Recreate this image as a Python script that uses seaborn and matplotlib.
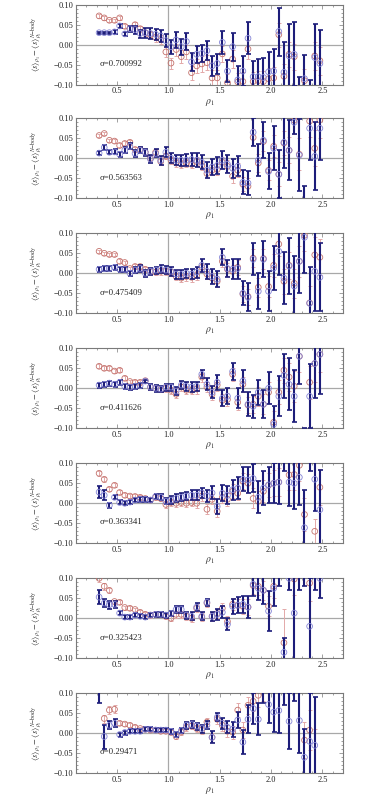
import numpy as np
import pandas as pd
import seaborn as sns
import matplotlib.pyplot as plt
import matplotlib.ticker as mticker

# -----------------------------------------------------------------------------
# Plotting attributes
# -----------------------------------------------------------------------------
sns.set_theme(style="ticks")
plt.rcParams["font.family"] = ["Liberation Serif", "DejaVu Serif"]
plt.rcParams["mathtext.fontset"] = "stix"

col_bar = "#1d1d7a"
col_blue = "#8585d6"
col_red = "#c4736d"
col_red_bar = "#e3a9a9"
col_frame = "#7a7a7a"
dpi = 100

# -----------------------------------------------------------------------------
# Data
# -----------------------------------------------------------------------------
nan = np.nan

rho = [0.325, 0.375, 0.425, 0.475, 0.525, 0.575, 0.625, 0.675, 0.725, 0.775,
       0.825, 0.875, 0.925, 0.975, 1.025, 1.075, 1.125, 1.175, 1.225, 1.275,
       1.325, 1.375, 1.425, 1.475, 1.525, 1.575, 1.625, 1.675, 1.725, 1.775,
       1.825, 1.875, 1.925, 1.975, 2.025, 2.075, 2.125, 2.175, 2.225, 2.275,
       2.325, 2.375, 2.425, 2.475]

sigmas = ["0.700992", "0.563563", "0.475409", "0.411626",
          "0.363341", "0.325423", "0.29471"]

# sigma = 0.700992
b1 = [0.030, 0.030, 0.030, 0.032, 0.047, 0.027, 0.040, 0.038, 0.028, 0.030,
      0.028, 0.026, 0.022, 0.010, -0.005, 0.012, -0.005, 0.008, -0.043, -0.024,
      -0.022, -0.015, -0.053, -0.047, 0.006, -0.066, -0.005, -0.088, -0.066, 0.016,
      -0.080, -0.080, -0.082, -0.068, -0.066, 0.033, -0.069, -0.028, -0.024, -0.140,
      -0.085, -0.110, -0.032, -0.047]
be1 = [0.003, 0.003, 0.003, 0.004, 0.005, 0.006, 0.008, 0.010, 0.010, 0.012,
       0.013, 0.014, 0.015, 0.016, 0.018, 0.020, 0.020, 0.022, 0.022, 0.022,
       0.022, 0.024, 0.024, 0.025, 0.028, 0.028, 0.035, 0.035, 0.038, 0.040,
       0.040, 0.045, 0.048, 0.050, 0.055, 0.060, 0.075, 0.080, 0.080, 0.060,
       0.060, 0.023, 0.085, 0.085]
r1 = [0.072, 0.067, 0.061, 0.061, 0.067, 0.046, 0.040, 0.050, 0.040, 0.030,
      0.025, 0.018, 0.013, -0.018, -0.046, -0.012, -0.030, -0.018, -0.070, -0.053,
      -0.048, -0.045, -0.083, -0.083, -0.023, -0.095, -0.036, -0.093, -0.092, -0.011,
      -0.092, -0.090, -0.092, -0.085, -0.083, 0.025, -0.079, -0.024, -0.030, nan,
      -0.090, nan, -0.028, -0.040]
re1 = [0.004, 0.004, 0.004, 0.004, 0.005, 0.005, 0.006, 0.006, 0.007, 0.008,
       0.009, 0.010, 0.011, 0.012, 0.014, 0.015, 0.016, 0.017, 0.018, 0.018,
       0.019, 0.019, 0.020, 0.020, 0.021, 0.021, 0.022, 0.022, 0.023, 0.024,
       0.024, 0.025, 0.026, 0.027, 0.028, 0.030, 0.030, 0.032, 0.032, 0.030,
       0.030, 0.030, 0.035, 0.035]

# sigma = 0.563563
b2 = [0.013, 0.027, 0.015, 0.016, 0.010, 0.020, 0.030, 0.012, 0.020, 0.015,
      -0.002, 0.012, -0.005, 0.015, 0.000, -0.005, -0.005, -0.005, -0.003, -0.005,
      -0.010, -0.030, -0.022, -0.018, -0.005, -0.015, -0.025, -0.020, -0.060, -0.062,
      0.065, -0.005, 0.045, -0.033, 0.025, -0.040, 0.040, 0.020, 0.090, 0.008,
      -0.120, 0.075, 0.005, 0.075]
be2 = [0.005, 0.006, 0.005, 0.006, 0.006, 0.007, 0.007, 0.008, 0.008, 0.009,
       0.010, 0.010, 0.011, 0.012, 0.013, 0.013, 0.014, 0.015, 0.016, 0.017,
       0.018, 0.020, 0.020, 0.021, 0.022, 0.022, 0.024, 0.025, 0.030, 0.030,
       0.035, 0.040, 0.045, 0.045, 0.055, 0.060, 0.065, 0.075, 0.030, 0.090,
       0.050, 0.080, 0.085, 0.080]
r2 = [0.057, 0.062, 0.045, 0.043, 0.032, 0.037, 0.040, 0.022, 0.022, 0.015,
      0.000, 0.015, -0.008, 0.005, -0.005, -0.012, -0.015, -0.012, -0.015, -0.008,
      -0.018, -0.038, -0.030, -0.028, -0.010, -0.020, -0.045, -0.030, -0.065, -0.070,
      0.052, -0.012, 0.042, -0.030, 0.030, -0.040, 0.038, 0.020, 0.095, 0.010,
      nan, 0.093, 0.025, 0.096]
re2 = [0.004, 0.004, 0.004, 0.005, 0.005, 0.005, 0.006, 0.006, 0.006, 0.007,
       0.007, 0.008, 0.008, 0.008, 0.009, 0.009, 0.010, 0.010, 0.010, 0.011,
       0.011, 0.012, 0.013, 0.013, 0.014, 0.015, 0.016, 0.017, 0.018, 0.020,
       0.020, 0.022, 0.025, 0.025, 0.028, 0.030, 0.030, 0.032, 0.035, 0.040,
       0.040, 0.040, 0.045, 0.045]

# sigma = 0.475409
b3 = [0.010, 0.012, 0.012, 0.015, 0.010, 0.010, 0.000, 0.008, 0.012, 0.000,
      0.005, 0.008, 0.010, 0.008, 0.005, -0.002, -0.003, 0.000, -0.002, 0.003,
      0.020, 0.005, -0.008, -0.015, 0.040, 0.012, 0.010, 0.012, -0.050, -0.060,
      0.035, -0.045, 0.035, -0.045, 0.013, 0.055, -0.012, 0.018, -0.032, 0.030,
      0.090, -0.075, 0.005, -0.010]
be3 = [0.006, 0.006, 0.006, 0.006, 0.007, 0.007, 0.007, 0.008, 0.008, 0.008,
       0.009, 0.009, 0.010, 0.010, 0.011, 0.011, 0.012, 0.012, 0.013, 0.014,
       0.016, 0.018, 0.018, 0.020, 0.020, 0.022, 0.025, 0.025, 0.030, 0.035,
       0.040, 0.045, 0.045, 0.050, 0.055, 0.060, 0.065, 0.070, 0.075, 0.080,
       0.090, 0.090, 0.100, 0.085]
r3 = [0.055, 0.050, 0.047, 0.047, 0.030, 0.027, 0.012, 0.017, 0.017, 0.010,
      0.005, 0.003, 0.005, 0.005, 0.003, -0.008, -0.012, -0.008, -0.010, -0.005,
      0.015, -0.002, -0.012, -0.020, 0.030, 0.010, 0.005, 0.015, -0.052, -0.058,
      0.038, -0.035, 0.037, -0.033, 0.020, 0.073, -0.020, 0.020, -0.025, 0.030,
      0.095, -0.074, 0.046, 0.040]
re3 = [0.004, 0.004, 0.004, 0.004, 0.005, 0.005, 0.005, 0.006, 0.006, 0.006,
       0.007, 0.007, 0.008, 0.008, 0.009, 0.009, 0.010, 0.010, 0.011, 0.011,
       0.012, 0.013, 0.013, 0.014, 0.015, 0.016, 0.017, 0.018, 0.020, 0.020,
       0.022, 0.024, 0.025, 0.026, 0.028, 0.030, 0.032, 0.034, 0.036, 0.038,
       0.040, 0.042, 0.045, 0.045]

# sigma = 0.411626
b4 = [0.008, 0.010, 0.013, 0.010, 0.015, 0.005, 0.003, 0.005, 0.007, 0.018,
      0.003, 0.000, -0.002, 0.003, 0.003, -0.007, 0.008, 0.005, 0.003, 0.005,
      0.035, 0.010, -0.010, 0.015, -0.025, -0.020, 0.042, -0.025, 0.018, -0.040,
      -0.045, -0.010, -0.040, 0.000, -0.090, -0.020, 0.032, 0.010, -0.020, 0.080,
      -0.130, -0.020, 0.062, 0.085]
be4 = [0.006, 0.006, 0.006, 0.006, 0.006, 0.006, 0.006, 0.007, 0.007, 0.004,
       0.007, 0.008, 0.008, 0.009, 0.009, 0.010, 0.010, 0.011, 0.012, 0.012,
       0.010, 0.015, 0.015, 0.018, 0.020, 0.020, 0.022, 0.025, 0.028, 0.030,
       0.028, 0.032, 0.035, 0.040, 0.045, 0.050, 0.055, 0.065, 0.065, 0.070,
       0.030, 0.080, 0.085, 0.100]
r4 = [0.055, 0.050, 0.050, 0.043, 0.045, 0.025, 0.017, 0.015, 0.015, 0.019,
      0.003, 0.000, -0.003, 0.000, -0.005, -0.015, 0.003, -0.005, -0.005, -0.002,
      0.028, 0.003, -0.015, 0.008, -0.030, -0.028, 0.035, -0.035, 0.010, -0.042,
      -0.040, -0.020, -0.040, -0.010, -0.085, -0.010, 0.045, 0.028, 0.005, 0.080,
      nan, 0.015, 0.062, 0.085]
re4 = [0.005, 0.005, 0.005, 0.005, 0.005, 0.005, 0.005, 0.006, 0.006, 0.006,
       0.007, 0.007, 0.007, 0.008, 0.008, 0.009, 0.009, 0.010, 0.010, 0.011,
       0.011, 0.012, 0.013, 0.014, 0.015, 0.016, 0.017, 0.018, 0.019, 0.020,
       0.022, 0.024, 0.025, 0.026, 0.028, 0.030, 0.032, 0.035, 0.038, 0.040,
       0.040, 0.042, 0.045, 0.045]

# sigma = 0.363341
b5 = [0.028, 0.020, -0.005, 0.015, 0.002, 0.000, 0.003, 0.008, 0.010, 0.010,
      0.008, 0.017, 0.015, 0.005, 0.008, 0.012, 0.015, 0.018, 0.020, 0.020,
      0.026, 0.018, 0.026, -0.008, 0.025, 0.020, 0.034, 0.038, 0.060, 0.058,
      0.062, 0.015, 0.038, 0.046, 0.050, 0.053, 0.120, 0.053, 0.050, 0.065,
      -0.061, 0.140, 0.060, -0.016]
be5 = [0.016, 0.012, 0.006, 0.005, 0.005, 0.005, 0.005, 0.005, 0.006, 0.006,
       0.006, 0.007, 0.007, 0.008, 0.009, 0.010, 0.010, 0.011, 0.012, 0.013,
       0.013, 0.015, 0.016, 0.018, 0.020, 0.022, 0.025, 0.028, 0.030, 0.032,
       0.035, 0.040, 0.042, 0.045, 0.050, 0.055, 0.040, 0.060, 0.065, 0.070,
       0.095, 0.060, 0.080, 0.100]
r5 = [0.075, 0.060, 0.035, 0.045, 0.027, 0.020, 0.018, 0.017, 0.015, 0.012,
      0.008, 0.015, 0.012, -0.003, 0.002, 0.000, 0.002, 0.000, 0.002, 0.000,
      0.018, -0.015, 0.010, -0.020, 0.015, 0.010, 0.030, 0.025, 0.055, 0.050,
      0.012, 0.005, 0.030, 0.045, 0.050, 0.053, nan, 0.071, 0.072, 0.095,
      -0.028, nan, -0.070, 0.040]
re5 = [0.006, 0.006, 0.005, 0.005, 0.005, 0.005, 0.005, 0.005, 0.006, 0.006,
       0.006, 0.007, 0.007, 0.008, 0.008, 0.009, 0.009, 0.010, 0.010, 0.011,
       0.012, 0.012, 0.013, 0.014, 0.015, 0.016, 0.017, 0.018, 0.020, 0.022,
       0.025, 0.026, 0.028, 0.030, 0.032, 0.035, 0.035, 0.038, 0.040, 0.040,
       0.042, 0.045, 0.030, 0.045]

# sigma = 0.325423
b6 = [0.053, 0.038, 0.034, 0.035, 0.013, 0.003, 0.003, 0.008, 0.005, 0.003,
      0.008, 0.010, 0.010, 0.008, 0.012, 0.022, 0.022, 0.008, 0.005, 0.028,
      0.005, 0.040, 0.005, 0.010, 0.015, -0.015, 0.030, 0.033, 0.035, 0.028,
      0.085, 0.075, 0.070, 0.018, 0.075, 0.120, -0.085, 0.100, 0.013, 0.120,
      0.120, -0.020, 0.120, 0.100]
be6 = [0.018, 0.010, 0.010, 0.008, 0.005, 0.005, 0.005, 0.005, 0.005, 0.005,
       0.005, 0.006, 0.006, 0.006, 0.007, 0.008, 0.008, 0.009, 0.010, 0.010,
       0.010, 0.008, 0.012, 0.013, 0.015, 0.015, 0.018, 0.020, 0.022, 0.028,
       0.030, 0.030, 0.035, 0.050, 0.045, 0.040, 0.035, 0.030, 0.140, 0.050,
       0.040, 0.120, 0.050, 0.050]
r6 = [0.100, 0.080, 0.070, 0.042, 0.040, 0.027, 0.025, 0.022, 0.015, 0.010,
      0.008, 0.010, 0.010, 0.005, 0.000, 0.010, 0.010, 0.005, 0.000, 0.025,
      0.003, 0.038, 0.005, 0.012, 0.025, -0.008, 0.035, 0.032, 0.030, 0.028,
      0.082, 0.080, 0.070, 0.030, 0.080, nan, -0.061, nan, 0.098, nan,
      nan, 0.088, nan, nan]
re6 = [0.008, 0.008, 0.006, 0.005, 0.005, 0.005, 0.005, 0.005, 0.005, 0.005,
       0.006, 0.006, 0.006, 0.007, 0.007, 0.008, 0.008, 0.009, 0.009, 0.010,
       0.010, 0.010, 0.011, 0.012, 0.013, 0.014, 0.015, 0.016, 0.018, 0.020,
       0.020, 0.022, 0.024, 0.025, 0.028, 0.030, 0.085, 0.035, 0.040, 0.040,
       0.040, 0.045, 0.045, 0.045]

# sigma = 0.29471
b7 = [0.110, -0.008, 0.020, 0.025, -0.003, 0.002, 0.005, 0.005, 0.005, 0.010,
      0.010, 0.008, 0.008, 0.008, 0.005, -0.003, 0.007, 0.020, 0.022, 0.018,
      0.012, 0.020, -0.010, 0.040, 0.025, 0.015, 0.010, 0.033, -0.022, 0.035,
      0.062, 0.035, 0.120, 0.072, 0.053, 0.057, 0.120, 0.030, 0.120, 0.032,
      -0.060, -0.020, -0.030, nan]
be7 = [0.035, 0.030, 0.010, 0.010, 0.005, 0.005, 0.005, 0.005, 0.005, 0.005,
       0.005, 0.005, 0.005, 0.005, 0.006, 0.006, 0.007, 0.008, 0.008, 0.009,
       0.010, 0.010, 0.015, 0.010, 0.013, 0.015, 0.018, 0.020, 0.030, 0.035,
       0.038, 0.040, 0.045, 0.045, 0.050, 0.055, 0.050, 0.070, 0.040, 0.080,
       0.070, 0.120, 0.120, nan]
r7 = [nan, 0.037, 0.058, 0.060, 0.025, 0.023, 0.020, 0.015, 0.012, 0.010,
      0.008, 0.008, 0.005, 0.005, 0.003, -0.008, 0.003, 0.015, 0.018, 0.012,
      0.008, 0.028, -0.010, 0.035, 0.020, 0.005, 0.003, 0.058, 0.008, 0.070,
      0.080, 0.095, 0.110, nan, nan, nan, nan, nan, nan, nan,
      -0.017, 0.008, -0.110, nan]
re7 = [nan, 0.010, 0.010, 0.010, 0.005, 0.005, 0.005, 0.005, 0.005, 0.005,
       0.005, 0.005, 0.005, 0.005, 0.006, 0.006, 0.007, 0.008, 0.008, 0.009,
       0.010, 0.010, 0.012, 0.012, 0.013, 0.015, 0.016, 0.018, 0.020, 0.022,
       0.025, 0.028, 0.030, nan, nan, nan, nan, nan, nan, nan,
       0.045, 0.050, 0.120, nan]

panels = [(b1, be1, r1, re1), (b2, be2, r2, re2), (b3, be3, r3, re3),
          (b4, be4, r4, re4), (b5, be5, r5, re5), (b6, be6, r6, re6),
          (b7, be7, r7, re7)]

# -----------------------------------------------------------------------------
# Figure
# -----------------------------------------------------------------------------
W, H = 382, 795
fig = plt.figure(figsize=(W / dpi, H / dpi), dpi=dpi)
fig.patch.set_facecolor("white")

tops = [4.7, 118.3, 233.3, 348.3, 463.3, 578.3, 693.3]
ax_left, ax_w, ax_h = 76, 267, 80


def ylab(v, pos):
    return "{:.2f}".format(v).replace("-", "\u2212")


for i, (top, (b, be, r, re_)) in enumerate(zip(tops, panels)):
    ax = fig.add_axes([ax_left / W, 1 - (top + ax_h) / H, ax_w / W, ax_h / H])
    df = pd.DataFrame({"rho": rho, "blue": b, "blue_err": be,
                       "red": r, "red_err": re_})

    ax.axhline(0, color="#a8a8a8", lw=0.9, zorder=1)
    ax.axvline(1.0, color="#a8a8a8", lw=0.9, zorder=1)

    # Red series
    ax.errorbar(df["rho"], df["red"], yerr=df["red_err"], fmt="none",
                ecolor=col_red_bar, elinewidth=0.7, capsize=1.2, capthick=0.7,
                zorder=2)
    sns.scatterplot(x="rho", y="red", data=df, ax=ax, s=17, facecolors="none",
                    edgecolor=col_red, linewidth=0.6, zorder=3)

    # Blue series
    ax.errorbar(df["rho"], df["blue"], yerr=df["blue_err"], fmt="none",
                ecolor=col_bar, elinewidth=1.5, capsize=1.8, capthick=1.2,
                zorder=4)
    sns.scatterplot(x="rho", y="blue", data=df, ax=ax, s=17, facecolors="none",
                    edgecolor=col_blue, linewidth=0.6, zorder=5)

    ax.set_xlim(0.1, 2.7)
    ax.set_ylim(-0.1, 0.1)
    ax.xaxis.set_major_locator(mticker.FixedLocator([0.5, 1.0, 1.5, 2.0, 2.5]))
    ax.xaxis.set_minor_locator(mticker.MultipleLocator(0.1))
    ax.yaxis.set_major_locator(mticker.MultipleLocator(0.05))
    ax.yaxis.set_minor_locator(mticker.MultipleLocator(0.01))
    ax.xaxis.set_major_formatter(mticker.FormatStrFormatter("%.1f"))
    ax.yaxis.set_major_formatter(mticker.FuncFormatter(ylab))
    ax.tick_params(which="both", direction="in", top=True, right=True,
                   color=col_frame, width=0.5, labelsize=6, pad=2,
                   labelcolor="#222222")
    ax.tick_params(which="major", length=3)
    ax.tick_params(which="minor", length=1.5)
    for s in ax.spines.values():
        s.set_color(col_frame)
        s.set_linewidth(0.8)

    ax.set_xlabel(r"$\rho_1$", fontsize=7, color="#333333")
    ax.xaxis.set_label_coords(0.5, -0.15)
    ax.set_ylabel(r"$\langle s\rangle_{\rho_1}-\langle s\rangle_{\rho_1}^{N\mathrm{-body}}$",
                  fontsize=6, color="#333333")
    ax.yaxis.set_label_coords(-0.12, 0.5)

    ax.text(0.33, -0.048, "\u03c3=" + sigmas[i], fontsize=6.3,
            color="#222222", ha="left", va="center")

plt.savefig("out.png", dpi=dpi, facecolor="white")
